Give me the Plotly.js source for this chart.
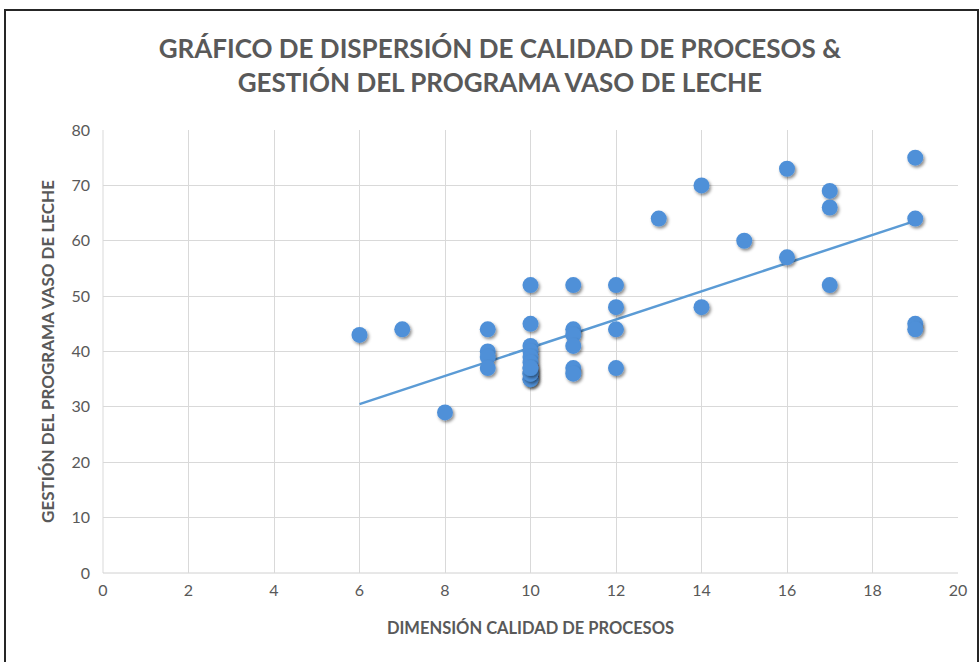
<!DOCTYPE html>
<html>
<head>
<meta charset="utf-8">
<script src="https://cdn.plot.ly/plotly-3.0.1.min.js"></script>
<style>
  html, body { margin: 0; padding: 0; background: #ffffff; }
  #wrap { position: relative; width: 980px; height: 662px; overflow: hidden; }
  #chart { width: 980px; height: 662px; }
  #frame { position: absolute; left: 4px; top: 9px; width: 971px; height: 700px;
           border: 2px solid #262626; pointer-events: none; }
</style>
</head>
<body>
<div id="wrap">
  <div id="chart"></div>
  <div id="frame"></div>
</div>
<script>
// Dimensión Calidad de Procesos (x) vs Gestión del Programa Vaso de Leche (y)
var calidadProcesos = [6, 7, 8,
  9, 9, 9, 9,
  10, 10, 10, 10, 10, 10, 10, 10, 10, 10, 10, 10,
  11, 11, 11, 11, 11, 11,
  12, 12, 12, 12,
  13,
  14, 14,
  15,
  16, 16,
  17, 17, 17,
  19, 19, 19, 19];
var gestionPrograma = [43, 44, 29,
  44, 40, 39, 37,
  52, 45, 41, 40, 39, 38, 37, 36, 35, 35, 36, 37,
  52, 44, 43, 41, 37, 36,
  52, 48, 44, 37,
  64,
  70, 48,
  60,
  73, 57,
  69, 66, 52,
  75, 64, 45, 44];

// Linear trend line (endpoints)
var trendX = [6, 19];
var trendY = [30.5, 63.6];

var xTicks = [0, 2, 4, 6, 8, 10, 12, 14, 16, 18, 20];
var yTicks = [0, 10, 20, 30, 40, 50, 60, 70, 80];

var blue = '#5B9BD5';
var gray = '#595959';

var traces = [
  {
    x: trendX, y: trendY, type: 'scatter', mode: 'lines',
    line: { color: blue, width: 2.5 }, hoverinfo: 'skip', showlegend: false
  },
  {
    x: calidadProcesos, y: gestionPrograma, type: 'scatter', mode: 'markers',
    marker: { color: '#4F90D8', size: 16, line: { width: 0 } }, showlegend: false
  }
];

var layout = {
  width: 980, height: 662,
  paper_bgcolor: '#ffffff', plot_bgcolor: '#ffffff',
  margin: { l: 103, r: 22, t: 130, b: 89 },
  showlegend: false,
  title: {
    text: 'GRÁFICO DE DISPERSIÓN DE CALIDAD DE PROCESOS &<br>GESTIÓN DEL PROGRAMA VASO DE LECHE',
    font: { family: 'Lato, "Open Sans", sans-serif', size: 26, color: gray, weight: 'bold' },
    x: 0.51, xanchor: 'center', y: 0.912, yanchor: 'top'
  },
  xaxis: {
    range: [0, 20], tickvals: xTicks, ticktext: xTicks.map(String),
    showgrid: true, gridcolor: '#d9d9d9', gridwidth: 1,
    zeroline: false, showline: false, ticks: '', ticklabelstandoff: 6,
    tickfont: { family: 'Lato, sans-serif', size: 16, color: gray },
    title: { text: 'DIMENSIÓN CALIDAD DE PROCESOS', standoff: 24,
             font: { family: 'Lato, sans-serif', size: 16.5, color: gray, weight: 'bold' } },
    fixedrange: true
  },
  yaxis: {
    range: [0, 80], tickvals: yTicks, ticktext: yTicks.map(String),
    showgrid: true, gridcolor: '#d9d9d9', gridwidth: 1,
    zeroline: false, showline: false, ticks: '', ticklabelstandoff: 12,
    tickfont: { family: 'Lato, sans-serif', size: 16, color: gray },
    title: { text: 'GESTIÓN DEL PROGRAMA VASO DE LECHE', standoff: 12,
             font: { family: 'Lato, sans-serif', size: 17, color: gray, weight: 'bold' } },
    fixedrange: true
  },
  shapes: [
    { type: 'line', xref: 'paper', yref: 'paper', x0: 0, x1: 0, y0: 0, y1: 1,
      line: { color: '#d9d9d9', width: 1 }, layer: 'below' },
    { type: 'line', xref: 'paper', yref: 'paper', x0: 0, x1: 1, y0: 0, y1: 0,
      line: { color: '#d0d0d0', width: 1 }, layer: 'below' }
  ]
};

Plotly.newPlot('chart', traces, layout, { displayModeBar: false, staticPlot: true }).then(function (gd) {
  var svgNS = 'http://www.w3.org/2000/svg';
  var svg = gd.querySelector('svg.main-svg');
  var defs = svg.querySelector('defs') || svg.insertBefore(document.createElementNS(svgNS, 'defs'), svg.firstChild);
  var f = document.createElementNS(svgNS, 'filter');
  f.setAttribute('id', 'ptShadow');
  f.setAttribute('x', '-50%'); f.setAttribute('y', '-50%');
  f.setAttribute('width', '200%'); f.setAttribute('height', '200%');
  var ds = document.createElementNS(svgNS, 'feDropShadow');
  ds.setAttribute('dx', '1.5'); ds.setAttribute('dy', '2');
  ds.setAttribute('stdDeviation', '1.8');
  ds.setAttribute('flood-color', '#000000');
  ds.setAttribute('flood-opacity', '0.45');
  f.appendChild(ds);
  defs.appendChild(f);
  var pts = gd.querySelectorAll('.scatterlayer .trace .points path');
  pts.forEach(function (p) { p.setAttribute('filter', 'url(#ptShadow)'); });
});
</script>
</body>
</html>
